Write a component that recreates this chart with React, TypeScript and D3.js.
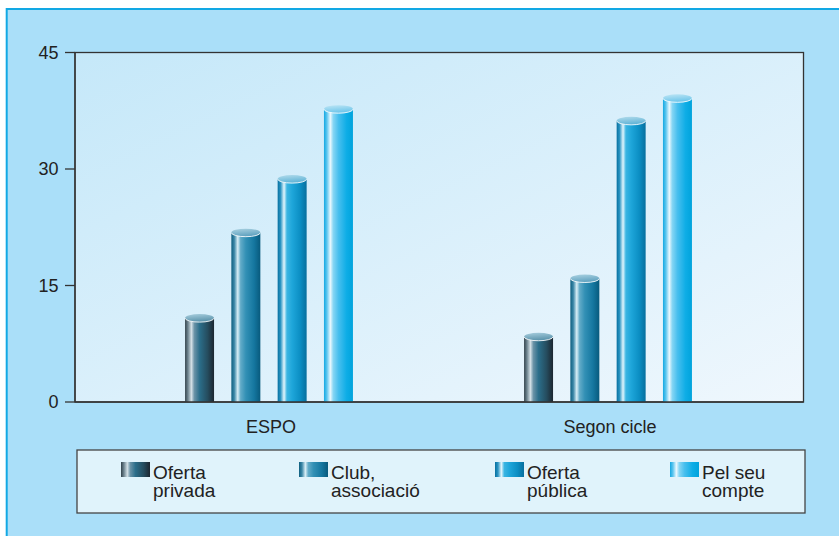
import React from "react";
import * as d3 from "d3";

const categories = ["ESPO", "Segon cicle"];
const seriesLabels = [
  ["Oferta", "privada"],
  ["Club,", "associació"],
  ["Oferta", "pública"],
  ["Pel seu", "compte"],
];
const espoValues = [10.8, 21.8, 28.7, 37.7];
const segonValues = [8.4, 15.9, 36.2, 39.1];
const yTicks = [0, 15, 30, 45];

const bodyStops: [number, string][][] = [
  [[0, "#33434c"], [0.1, "#6f8590"], [0.22, "#d3e0e6"], [0.32, "#6a93a7"], [0.5, "#2b6e8a"], [0.78, "#254c5e"], [1, "#1c2630"]],
  [[0, "#0f5f80"], [0.1, "#3a86a6"], [0.22, "#d8eef6"], [0.32, "#62abc8"], [0.5, "#3290b5"], [0.78, "#1577a0"], [1, "#085a7d"]],
  [[0, "#0770a0"], [0.1, "#2a94c2"], [0.22, "#e2f5fc"], [0.32, "#3ab5e2"], [0.5, "#1ea6da"], [0.78, "#0b8ec3"], [1, "#076f9e"]],
  [[0, "#14a8e2"], [0.1, "#5cc6ef"], [0.22, "#eaf8fe"], [0.32, "#86d6f4"], [0.5, "#48bfee"], [0.78, "#0eade6"], [1, "#00a3dc"]],
];
const topStops: [string, string][] = [
  ["#a9cfdf", "#5b93ab"],
  ["#acd3e2", "#5fa1bf"],
  ["#b3dcec", "#5fb3d6"],
  ["#bfe6f5", "#6cc5ea"],
];

const W = 839;
const H = 536;
const plot = { left: 75, top: 52.5, right: 803.5, bottom: 402 };

export default function App() {
  const data = [espoValues, segonValues];
  const y = d3.scaleLinear().domain([0, 45]).range([plot.bottom, plot.top]);
  const x0 = d3.scaleBand<string>().domain(categories).range([99.5, 777.5]).paddingInner(0);
  const inner = d3
    .scaleBand<number>()
    .domain([0, 1, 2, 3])
    .range([-92.6, 92.6])
    .paddingInner(0.374)
    .paddingOuter(0.187);
  const bw = inner.bandwidth();
  const font = "'Liberation Sans', Arial, Helvetica, sans-serif";
  const legendX = [121, 299, 495, 670];
  const ry = 4;

  return (
    <svg
      width={W}
      height={H}
      style={{ position: "absolute", left: 0, top: 0 }}
      fontFamily={font}
    >
      <defs>
        <linearGradient id="plotBg" x1="0" y1="0" x2="1" y2="1">
          <stop offset="0" stopColor="#c5e8f9" />
          <stop offset="1" stopColor="#eff7fd" />
        </linearGradient>
        {bodyStops.map((stops, i) => (
          <linearGradient key={i} id={`body${i}`} x1="0" y1="0" x2="1" y2="0">
            {stops.map(([o, c], j) => (
              <stop key={j} offset={o} stopColor={c} />
            ))}
          </linearGradient>
        ))}
        {topStops.map(([a, b], i) => (
          <linearGradient key={i} id={`top${i}`} x1="0" y1="0" x2="0.3" y2="1">
            <stop offset="0" stopColor={a} />
            <stop offset="1" stopColor={b} />
          </linearGradient>
        ))}
      </defs>

      <rect x={0} y={0} width={W} height={H} fill="#ffffff" />
      <rect x={6.7} y={9} width={W + 10} height={H + 10} fill="#aadff9" stroke="#12a8e4" strokeWidth={2} />

      <rect
        x={plot.left}
        y={plot.top}
        width={plot.right - plot.left}
        height={plot.bottom - plot.top}
        fill="url(#plotBg)"
        stroke="#333"
        strokeWidth={1.3}
      />

      {data.map((vals, gi) => {
        const cx = (x0(categories[gi]) as number) + x0.bandwidth() / 2;
        return vals.map((v, si) => {
          const bx = cx + (inner(si) as number);
          const ty = y(v);
          return (
            <g key={`${gi}-${si}`}>
              <rect x={bx} y={ty} width={bw} height={y(0) - ty} fill={`url(#body${si})`} />
              <ellipse cx={bx + bw / 2} cy={ty} rx={bw / 2} ry={ry} fill={`url(#top${si})`} />
              <path
                d={`M${bx},${ty} A${bw / 2},${ry} 0 0 0 ${bx + bw},${ty}`}
                fill="none"
                stroke="#ffffff"
                strokeOpacity={0.85}
                strokeWidth={1}
              />
            </g>
          );
        });
      })}

      <line x1={plot.left} x2={plot.right} y1={plot.bottom} y2={plot.bottom} stroke="#333" strokeWidth={1.3} />
      <line x1={plot.left} x2={plot.left} y1={plot.top} y2={plot.bottom} stroke="#333" strokeWidth={1.3} />

      {yTicks.map((t) => (
        <g key={t}>
          <line x1={65} x2={plot.left} y1={y(t)} y2={y(t)} stroke="#333" strokeWidth={1.3} />
          <text x={58.5} y={y(t)} dy="0.35em" textAnchor="end" fontSize={18} fill="#222">
            {t}
          </text>
        </g>
      ))}

      {categories.map((c) => (
        <text
          key={c}
          x={(x0(c) as number) + x0.bandwidth() / 2 + 2}
          y={433}
          textAnchor="middle"
          fontSize={18}
          fill="#222"
        >
          {c}
        </text>
      ))}

      <rect x={77} y={450} width={728} height={63} fill="#e0f3fb" stroke="#444" strokeWidth={1.3} />
      {seriesLabels.map((lab, i) => (
        <g key={i}>
          <rect x={legendX[i]} y={462} width={29} height={15} fill={`url(#body${i})`} />
          <text x={legendX[i] + 32} y={479} fontSize={19} fill="#222">
            {lab[0]}
          </text>
          <text x={legendX[i] + 32} y={497} fontSize={19} fill="#222">
            {lab[1]}
          </text>
        </g>
      ))}
    </svg>
  );
}
